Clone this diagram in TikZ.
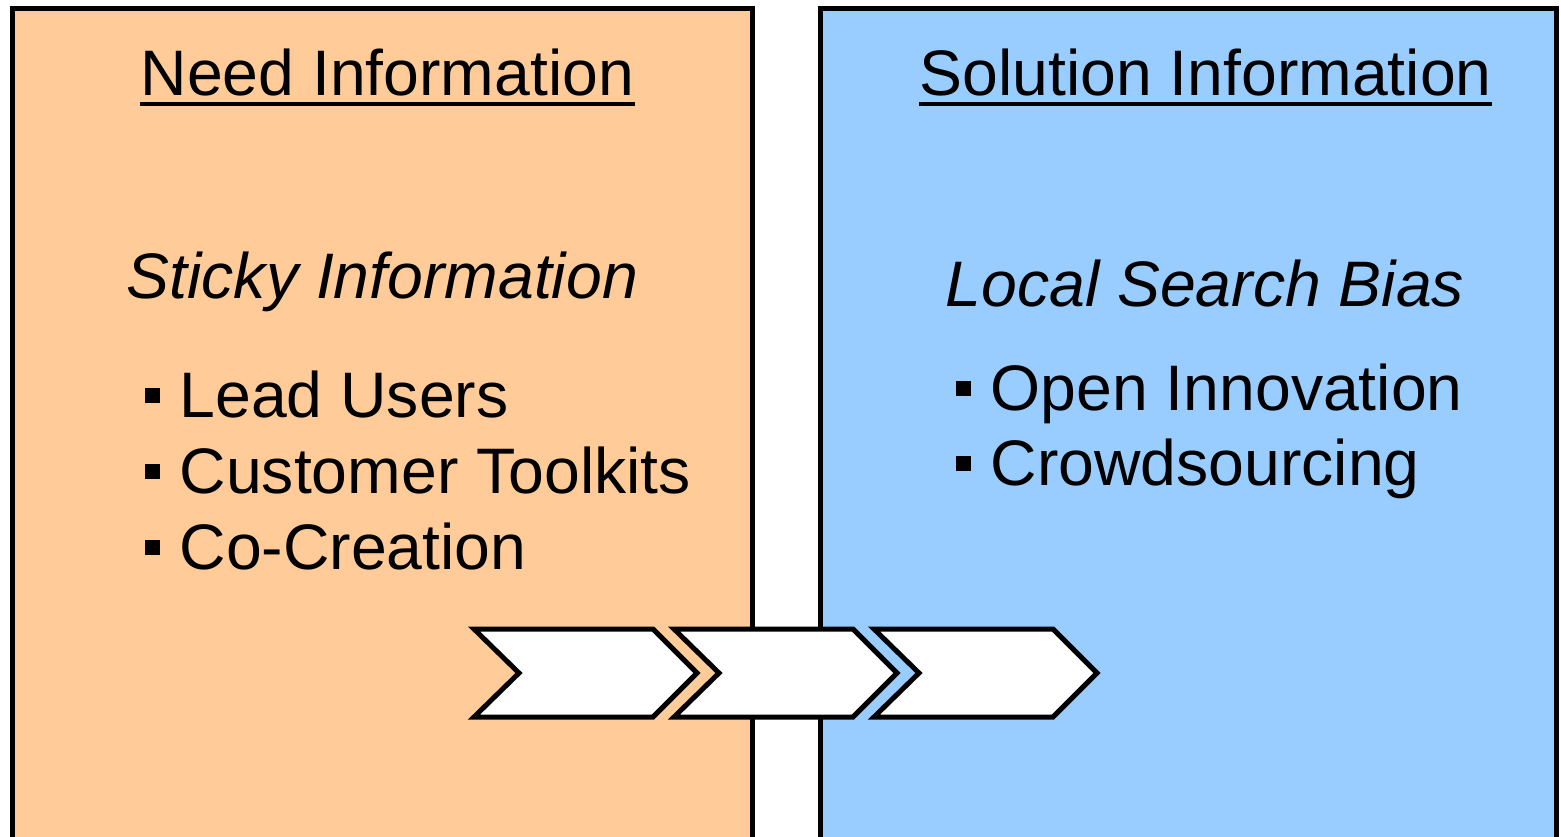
\documentclass[tikz,border=0pt]{standalone}
\usepackage{fontspec}
\setmainfont{Liberation Sans}
\definecolor{needcol}{RGB}{255,204,153}
\definecolor{solcol}{RGB}{153,204,255}
\newcommand{\sqbullet}{\rule[0.14cm]{0.15cm}{0.15cm}\hspace{0.2cm}}

\begin{document}
\begin{tikzpicture}[
        every node/.style={inner sep=0pt,anchor=base west,font=\fontsize{18.3}{21}\selectfont},
        panel/.style={line width=0.05cm},
        headline/.style={line width=0.04cm},
        chevron/.style={fill=white,draw=black,line width=0.05cm,line join=miter}
    ]
        \clip (0,0) rectangle (15.61,-8.36);
        % the two panels
        \draw[panel,fill=needcol] (0.125,-0.08) rectangle (7.525,-9);
        \draw[panel,fill=solcol] (8.205,-0.08) rectangle (15.56,-9);
        % headings
        \node (need) at (1.40,-0.95) {Need Information};
        \draw[headline] ([yshift=-0.09cm]need.base west) -- ([yshift=-0.09cm]need.base east);
        \node (solution) at (9.19,-0.95) {Solution Information};
        \draw[headline] ([yshift=-0.09cm]solution.base west) -- ([yshift=-0.09cm]solution.base east);
        \node (sticky) at (1.26,-2.98) {\itshape Sticky Information};
        \node (local) at (9.45,-3.06) {\itshape Local Search Bias};
        % items
        \node (lead) at (1.44,-4.17) {\sqbullet Lead Users};
        \node (toolkits) at (1.44,-4.93) {\sqbullet Customer Toolkits};
        \node (cocreation) at (1.44,-5.69) {\sqbullet Co-Creation};
        \node (openinno) at (9.55,-4.10) {\sqbullet Open Innovation};
        \node (crowd) at (9.55,-4.85) {\sqbullet Crowdsourcing};
        % chevrons
        \foreach \x in {4.74,6.74,8.74}
            \draw[chevron] (\x,-6.29) -- ++(1.79,0) -- ++(0.44,-0.44) -- ++(-0.44,-0.44) -- ++(-1.79,0) -- ++(0.45,0.44) -- cycle;
    \end{tikzpicture}
\end{document}
